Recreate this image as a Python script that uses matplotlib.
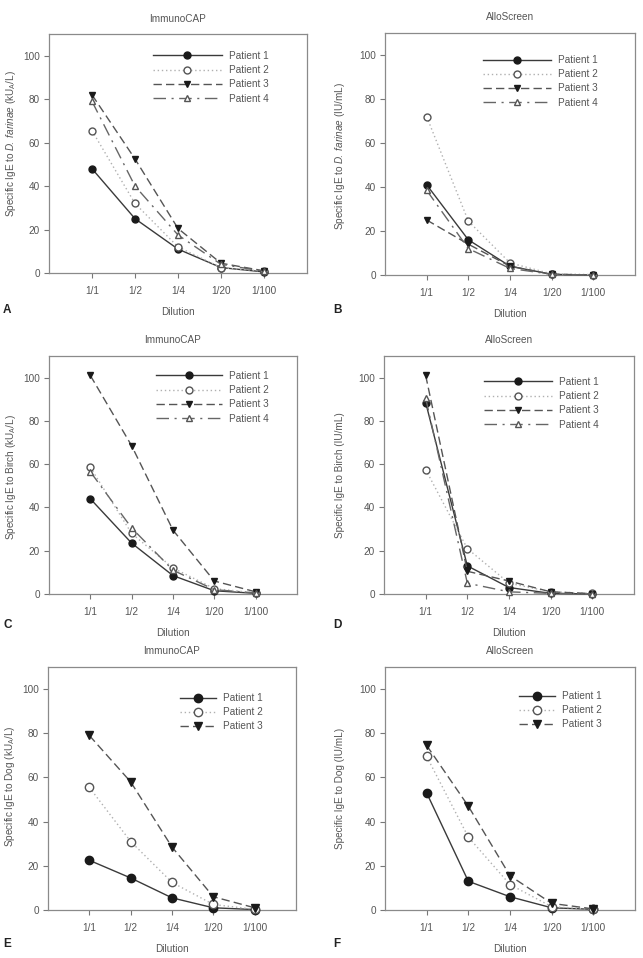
import matplotlib
matplotlib.use("Agg")
import matplotlib.pyplot as plt

plt.rcParams['font.family'] = ['Liberation Sans', 'DejaVu Sans']
plt.rcParams['mathtext.fontset'] = 'custom'
plt.rcParams['mathtext.rm'] = 'Liberation Sans'
plt.rcParams['mathtext.it'] = 'Liberation Sans:italic'

dilutions = ["1/1", "1/2", "1/4", "1/20", "1/100"]
patients = ["Patient 1", "Patient 2", "Patient 3", "Patient 4"]
yticks = [0, 20, 40, 60, 80, 100]

# A: ImmunoCAP, D. farinae
a_p1 = [48, 25, 11, 2.5, 0.5]
a_p2 = [65.5, 32, 12, 2.5, 0.8]
a_p3 = [82, 52.5, 20.5, 4.5, 1]
a_p4 = [79, 40, 17.5, 4, 0.8]
# B: AlloScreen, D. farinae
b_p1 = [41, 16, 4, 0.3, 0]
b_p2 = [72, 24.5, 5.5, 0.5, 0.2]
b_p3 = [25, 14, 4, 0.3, 0]
b_p4 = [38.5, 12, 3, 0.3, 0]
# C: ImmunoCAP, Birch
c_p1 = [44, 23.5, 8.5, 1.5, 0.3]
c_p2 = [58.5, 28, 12, 2.5, 0.5]
c_p3 = [101, 68.5, 29.5, 6, 1]
c_p4 = [56.5, 30.5, 11, 2, 0.5]
# D: AlloScreen, Birch
d_p1 = [88.5, 13, 3, 0.3, 0]
d_p2 = [57.5, 21, 5, 1, 0.3]
d_p3 = [101, 10.5, 6, 1, 0.2]
d_p4 = [90.5, 5, 1, 0.3, 0]
# E: ImmunoCAP, Dog
e_p1 = [22.5, 14.5, 5.5, 1, 0.2]
e_p2 = [55.5, 31, 12.5, 2.5, 0.3]
e_p3 = [79, 58, 28.5, 6, 1]
# F: AlloScreen, Dog
f_p1 = [53, 13, 6, 1, 0.3]
f_p2 = [69.5, 33, 11.5, 1.5, 0.3]
f_p3 = [74.5, 47, 15.5, 3, 0.5]

styles = [
    dict(color='#3a3a3a', linestyle='-', marker='o', mfc='#1a1a1a', mec='#1a1a1a', lw=1.0),
    dict(color='#b0b0b0', linestyle=(0, (1, 2)), marker='o', mfc='white', mec='#555555', lw=1.0),
    dict(color='#555555', linestyle=(0, (6, 3)), marker='v', mfc='#1a1a1a', mec='#1a1a1a', lw=1.0),
    dict(color='#666666', linestyle=(0, (9, 4, 1.5, 4)), marker='^', mfc='white', mec='#555555', lw=1.0),
]

W, H = 643, 958

panels = [
    dict(px=(49, 34, 307, 273), title='ImmunoCAP', letter='A', lpos=(3, 310),
         ylabel=r'Specific IgE to $\mathit{D\!.\ farinae}$ (kU$_\mathrm{A}$/L)', data=[a_p1, a_p2, a_p3, a_p4],
         leg=(0.403, 0.929), hl=6.9, ms=5, yl=(-0.147, 0.54)),
    dict(px=(385, 33, 635, 275), title='AlloScreen', letter='B', lpos=(333, 310),
         ylabel=r'Specific IgE to $\mathit{D\!.\ farinae}$ (IU/mL)', data=[b_p1, b_p2, b_p3, b_p4],
         leg=(0.392, 0.909), hl=6.8, ms=5, yl=(-0.18, 0.49)),
    dict(px=(49, 356, 297, 594), title='ImmunoCAP', letter='C', lpos=(3, 625),
         ylabel=r'Specific IgE to Birch (kU$_\mathrm{A}$/L)', data=[c_p1, c_p2, c_p3, c_p4],
         leg=(0.431, 0.937), hl=6.6, ms=5, yl=(-0.153, 0.49)),
    dict(px=(384, 356, 634, 594), title='AlloScreen', letter='D', lpos=(333, 625),
         ylabel='Specific IgE to Birch (IU/mL)', data=[d_p1, d_p2, d_p3, d_p4],
         leg=(0.40, 0.912), hl=6.8, ms=5, yl=(-0.176, 0.5)),
    dict(px=(48, 667, 296, 910), title='ImmunoCAP', letter='E', lpos=(3, 944),
         ylabel=r'Specific IgE to Dog (kU$_\mathrm{A}$/L)', data=[e_p1, e_p2, e_p3],
         leg=(0.532, 0.893), hl=3.6, ms=6, yl=(-0.153, 0.51)),
    dict(px=(385, 667, 635, 910), title='AlloScreen', letter='F', lpos=(333, 944),
         ylabel='Specific IgE to Dog (IU/mL)', data=[f_p1, f_p2, f_p3],
         leg=(0.536, 0.901), hl=3.6, ms=6, yl=(-0.18, 0.5)),
]

fig = plt.figure(figsize=(W / 100, H / 100), dpi=100)
txt = '#555555'
fs = 7.2
xpos = list(range(1, len(dilutions) + 1))

for p in panels:
    l, t, r, b = p['px']
    ax = fig.add_axes([l / W, (H - b) / H, (r - l) / W, (b - t) / H])
    handles = []
    for vals, st, lab in zip(p['data'], styles, patients):
        ln, = ax.plot(xpos, vals, label=lab, markersize=p['ms'], zorder=3, clip_on=False, **st)
        handles.append(ln)
    ax.set_xlim(0, 6)
    ax.set_ylim(0, 110)
    ax.set_xticks(xpos)
    ax.set_xticklabels(dilutions)
    ax.set_yticks(yticks)
    ax.tick_params(axis='both', direction='out', length=3.5, width=0.8, colors='#777777',
                   labelcolor=txt, labelsize=fs)
    ax.tick_params(axis='y', pad=3)
    ax.tick_params(axis='x', pad=6)
    for s in ax.spines.values():
        s.set_color('#8a8a8a')
        s.set_linewidth(0.9)
    ax.set_title(p['title'], fontsize=fs, color=txt, pad=9)
    ax.set_xlabel('Dilution', fontsize=fs, color=txt, labelpad=7.5)
    ax.set_ylabel(p['ylabel'], fontsize=fs, color=txt, va='center')
    ax.yaxis.set_label_coords(*p['yl'])
    leg = ax.legend(handles=handles, loc='upper left', bbox_to_anchor=p['leg'],
                    frameon=False, fontsize=fs, handlelength=p['hl'], labelspacing=0.42,
                    handletextpad=0.7, borderaxespad=0, borderpad=0)
    for tx in leg.get_texts():
        tx.set_color(txt)
    lx, ly = p['lpos']
    fig.text(lx / W, 1 - ly / H, p['letter'], fontsize=8.5,
             fontweight='bold', color='#222222', ha='left', va='center')

fig.savefig('out.png', dpi=100)
